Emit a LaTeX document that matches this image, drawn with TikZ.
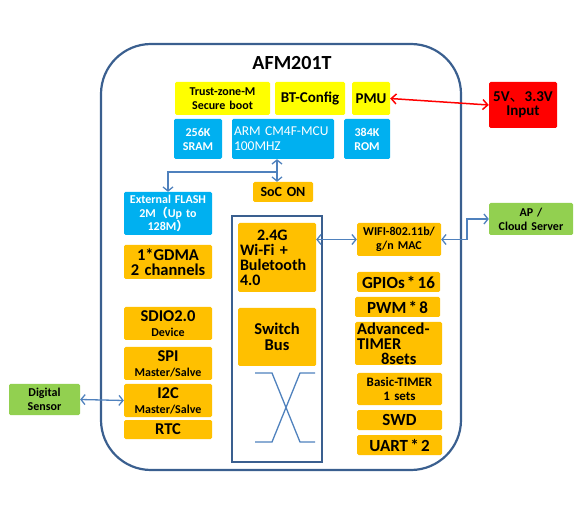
\documentclass[tikz,border=0pt]{standalone}
\usepackage{fontspec}
\setmainfont{Carlito}
\newfontfamily\cjk{Noto Sans CJK SC}
\usetikzlibrary{arrows.meta}
\definecolor{org}{HTML}{FFC000}
\definecolor{ylw}{HTML}{FFFF00}
\definecolor{cyn}{HTML}{00B0F0}
\definecolor{grn}{HTML}{92D050}
\definecolor{rd}{HTML}{FF0000}
\definecolor{outl}{HTML}{3A5F8F}
\definecolor{conn}{HTML}{4F81BD}
\newcommand{\fs}[1]{\fontsize{#1}{#1}\selectfont}
\newcommand{\tsp}{\hspace{2.2pt}}
\newcommand{\boxat}[7]{%
  \pgfmathsetmacro\myBW{#5-#3}\pgfmathsetmacro\myBH{#6-#4}\pgfmathsetmacro\myTW{#5-#3-4}%
  \node[#2, minimum width=\myBW pt, minimum height=\myBH pt, text width=\myTW pt] (#1) at ({(#3+#5)/2},{-(#4+#6)/2}) {#7};}
\tikzset{
  cbox/.style={draw=none, rounded corners=1.5pt, inner xsep=2pt, inner ysep=0pt, align=center, font=\bfseries\fontsize{14}{13}\selectfont},
  obox/.style={cbox, fill=org},
  ybox/.style={cbox, fill=ylw},
  bbox/.style={cbox, fill=cyn, text=white},
  gbox/.style={cbox, fill=grn},
  rbox/.style={cbox, fill=rd},
  biarrow/.style={draw=conn, line width=1.3pt, {Straight Barb[length=4pt,width=10pt]}-{Straight Barb[length=4pt,width=10pt]}},
  onearrow/.style={draw=conn, line width=1.3pt, -{Straight Barb[length=4pt,width=10pt]}},
  redarrow/.style={draw=rd, line width=1.5pt, {Straight Barb[length=5pt,width=10pt]}-{Straight Barb[length=5pt,width=10pt]}},
}
\begin{document}
\begin{tikzpicture}[x=1pt,y=1pt]
\useasboundingbox (0,0) rectangle (579,-505);
% chip outline
\draw[outl, line width=2.2pt, rounded corners=50pt] (101,-44) rectangle (461,-470);
\node[font=\bfseries\fs{20}] (title) at (292,-63) {AFM201T};
% top row
\boxat{tz}{ybox, font=\bfseries\fontsize{12}{14}\selectfont}{175}{82}{270}{115}{Trust-zone-M\\Secure boot}
\boxat{bt}{ybox, font=\bfseries\fs{15}}{275}{82}{345}{115}{BT-Config}
\boxat{pmu}{ybox, font=\bfseries\fs{15}}{352}{82}{390}{115}{PMU}
\boxat{sram}{bbox, font=\bfseries\fontsize{12}{14}\selectfont}{174}{119}{222}{159}{256K\\SRAM}
\boxat{arm}{bbox, align=left, font=\fontsize{13.5}{15}\selectfont}{232}{119}{334}{159}{ARM CM4F-MCU\\100MHZ}
\boxat{rom}{bbox, font=\bfseries\fontsize{12}{14}\selectfont}{344}{119}{390}{159}{384K\\ROM}
\boxat{pwr}{rbox, font=\bfseries\fontsize{15}{14}\selectfont}{489}{82}{557}{128}{5V{\cjk\mdseries 、}3.3V\\Input}
\boxat{soc}{obox, font=\bfseries\fs{14}}{253}{182}{313}{202}{SoC ON}
% left column
\boxat{flash}{bbox, font=\bfseries\fontsize{12}{13.5}\selectfont}{124}{192}{212}{235}{External FLASH\\2M{\cjk （}Up to\\128M{\cjk ）}}
\boxat{gdma}{obox, font=\bfseries\fontsize{16.5}{15.5}\selectfont}{124}{245}{212}{279}{1*GDMA\\2 channels}
\boxat{sdio}{obox, font=\bfseries\fontsize{16.5}{15}\selectfont}{124}{307}{212}{340}{SDIO2.0\\{\fontsize{12}{12}\selectfont Device}}
\boxat{spi}{obox, font=\bfseries\fontsize{16.5}{15}\selectfont}{124}{347}{212}{380}{SPI\\{\fontsize{12}{12}\selectfont Master/Salve}}
\boxat{i2c}{obox, font=\bfseries\fontsize{16.5}{15}\selectfont}{124}{384}{212}{417}{I2C\\{\fontsize{12}{12}\selectfont Master/Salve}}
\boxat{rtc}{obox, font=\bfseries\fs{16.5}}{124}{420}{212}{439}{RTC}
\boxat{sensor}{gbox, font=\bfseries\fontsize{12}{14}\selectfont}{9}{384}{80}{415}{Digital\\Sensor}
% center
\node[draw=outl, line width=2pt, minimum width=90pt, minimum height=246pt, inner sep=0] (core) at (277,-339) {};
\boxat{wifi}{obox, align=left, font=\bfseries\fontsize{16}{15}\selectfont}{238}{223}{316}{292}{\hspace*{17pt}2.4G\\Wi-Fi +\\Buletooth\\4.0}
\boxat{bus}{obox, font=\bfseries\fontsize{16.5}{16}\selectfont}{238}{308}{316}{366}{Switch\\Bus}
\draw[conn, line width=1.3pt] (255,-373) -- (272,-373) -- (300,-442) -- (315,-442);
\draw[conn, line width=1.3pt] (315,-373) -- (300,-373) -- (272,-442) -- (255,-442);
% right column
\boxat{mac}{obox, font=\bfseries\fontsize{12}{14}\selectfont}{357}{223}{441}{256}{WIFI-802.11b/\\g/n MAC}
\boxat{gpio}{obox, font=\bfseries\fs{17}}{357}{272}{440}{292}{GPIOs\tsp*\tsp16}
\boxat{pwm}{obox, font=\bfseries\fs{17}}{355}{297}{440}{317}{PWM\tsp*\tsp8}
\boxat{atim}{obox, align=left, font=\bfseries\fontsize{16.5}{15}\selectfont}{355}{322}{442}{365}{Advanced-\\TIMER\\\hspace*{24pt}8sets}
\boxat{btim}{obox, font=\bfseries\fontsize{13}{14.5}\selectfont}{357}{373}{442}{405}{Basic-TIMER\\1 sets}
\boxat{swd}{obox, font=\bfseries\fs{17}}{357}{410}{442}{430}{SWD}
\boxat{uart}{obox, font=\bfseries\fs{17}}{357}{435}{442}{455}{UART\tsp*\tsp2}
\boxat{ap}{gbox, font=\bfseries\fontsize{12}{14}\selectfont}{489}{203}{573}{235}{AP /\\Cloud Server}
% connectors
\draw[redarrow] (pmu.east) -- (pwr.west);
\coordinate (j) at (277,-172);
\draw[biarrow] (arm.south -| j) -- (soc.north -| j);
\draw[onearrow] (j) -| (flash.north);
\draw[biarrow] (sensor.east) -- (i2c.west);
\draw[biarrow] (wifi.east |- mac.west) -- (mac.west);
\coordinate (k) at (467,0);
\draw[biarrow] (mac.east) -| (k |- ap.west) -- (ap.west);
\end{tikzpicture}
\end{document}
